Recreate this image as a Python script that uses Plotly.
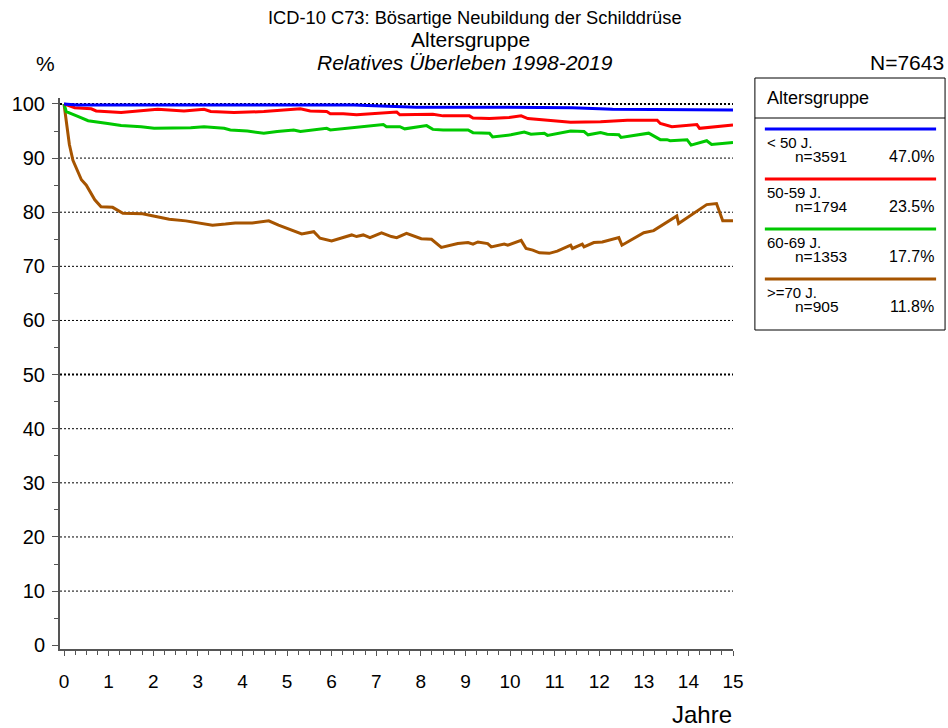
import plotly.graph_objects as go

# survival curves, years vs. percent
groups = ["< 50 J.", "50-59 J.", "60-69 J.", ">=70 J."]
counts = ["n=3591", "n=1794", "n=1353", "n=905"]
shares = ["47.0%", "23.5%", "17.7%", "11.8%"]
colors = ["#0000FF", "#FF0000", "#00C800", "#A65400"]

x_u50 = [0, 0.3, 6.5, 7.9, 9.8, 11.4, 12.3, 14.3, 14.6, 15]
y_u50 = [100, 99.8, 99.8, 99.4, 99.4, 99.3, 99.0, 99.0, 98.9, 98.9]

x_50 = [0, 0.24, 0.61, 0.72, 1.28, 2.1, 2.69, 3.14, 3.29, 3.81, 4.48, 5.0, 5.3, 5.52,
        5.89, 5.97, 6.26, 6.56, 7.46, 7.53, 8.27, 8.5, 9.09, 9.17, 9.54, 9.98, 10.25,
        10.4, 10.92, 11.36, 12.03, 12.63, 13.3, 13.37, 13.63, 14.19, 14.25, 15.0]
y_50 = [100, 99.3, 99.1, 98.7, 98.4, 99.0, 98.7, 99.0, 98.6, 98.4, 98.6, 98.9, 99.1, 98.7,
        98.6, 98.2, 98.2, 98.0, 98.5, 98.0, 98.1, 97.8, 97.8, 97.4, 97.3, 97.5, 97.8,
        97.3, 96.9, 96.6, 96.7, 97.0, 97.0, 96.4, 95.8, 96.2, 95.5, 96.1]

x_60 = [0, 0.05, 0.31, 0.54, 0.98, 1.28, 1.73, 2.02, 2.84, 3.14, 3.59, 3.73, 4.11, 4.48,
        4.78, 5.15, 5.3, 5.89, 5.97, 6.64, 7.16, 7.23, 7.53, 7.64, 8.13, 8.27, 8.5, 9.06,
        9.17, 9.54, 9.61, 10.02, 10.32, 10.47, 10.77, 10.84, 11.36, 11.66, 11.75, 12.03,
        12.18, 12.44, 12.49, 13.11, 13.37, 13.52, 13.59, 13.97, 14.06, 14.41, 14.52, 15.0]
y_60 = [100, 98.6, 97.7, 96.9, 96.4, 96.0, 95.8, 95.5, 95.6, 95.8, 95.5, 95.2, 95.0, 94.6,
        94.9, 95.2, 94.9, 95.5, 95.2, 95.7, 96.2, 95.8, 95.8, 95.4, 96.0, 95.3, 95.2, 95.2,
        94.7, 94.6, 93.9, 94.3, 94.8, 94.4, 94.6, 94.2, 95.0, 94.9, 94.3, 94.7,
        94.4, 94.3, 93.8, 94.6, 93.4, 93.4, 93.2, 93.4, 92.4, 93.2, 92.5, 92.9]

x_70 = [0, 0.06, 0.12, 0.2, 0.39, 0.5, 0.69, 0.83, 1.09, 1.32, 1.76, 2.06, 2.36, 2.73, 3.1, 3.33,
        3.62, 3.84, 4.22, 4.59, 4.81, 5.33, 5.6, 5.74, 6.0, 6.45, 6.56, 6.71, 6.86, 7.12,
        7.34, 7.46, 7.68, 8.01, 8.24, 8.46, 8.83, 9.06, 9.17, 9.28, 9.5, 9.58, 9.87, 9.95,
        10.25, 10.36, 10.51, 10.66, 10.88, 11.06, 11.36, 11.4, 11.62, 11.66, 11.88, 12.07,
        12.44, 12.51, 13.0, 13.22, 13.74, 13.78, 14.41, 14.63, 14.77, 15.0]
y_70 = [100, 96.0, 92.5, 89.6, 86.0, 85.0, 82.3, 81.0, 80.9, 79.8, 79.7, 79.2, 78.7, 78.4, 77.9, 77.6,
        77.8, 78.0, 78.0, 78.4, 77.6, 76.0, 76.4, 75.2, 74.7, 75.8, 75.5, 75.8, 75.3, 76.2,
        75.5, 75.3, 76.1, 75.1, 75.0, 73.5, 74.2, 74.4, 74.1, 74.5, 74.2, 73.6, 74.1, 73.9,
        74.8, 73.3, 73.0, 72.5, 72.4, 72.8, 73.9, 73.3, 74.1, 73.6, 74.4, 74.5,
        75.3, 73.9, 76.2, 76.6, 79.3, 77.9, 81.4, 81.6, 78.4, 78.4]

grid_levels = [10, 20, 30, 40, 60, 70, 80, 90]
bold_levels = [50, 100]

series_x = [x_u50, x_50, x_60, x_70]
series_y = [y_u50, y_50, y_60, y_70]

FONT = "Liberation Sans, Arial, sans-serif"
W, H = 948, 728
L, R, T, B = 57, 215, 98, 79


def px(xp):
    return (xp - L) / (W - L - R)


def py(yp):
    return (H - B - yp) / (H - T - B)


fig = go.Figure()

for g in grid_levels:
    fig.add_hline(y=g, line=dict(color="black", width=1, dash="2px,2px"), layer="below")
for g in bold_levels:
    fig.add_hline(y=g, line=dict(color="black", width=2, dash="2px,2px"), layer="below")

# draw oldest group first so blue stays on top
for i in reversed(range(4)):
    fig.add_trace(go.Scatter(x=series_x[i], y=series_y[i], mode="lines", name=groups[i],
                             line=dict(color=colors[i], width=3), showlegend=False))

fig.update_layout(
    width=W, height=H,
    margin=dict(l=L, r=R, t=T, b=B),
    plot_bgcolor="white", paper_bgcolor="white",
    font=dict(family=FONT, color="black"),
)
fig.update_xaxes(range=[-0.09, 15], dtick=1, tick0=0, showgrid=False, zeroline=False,
                 showline=True, linecolor="#555555", linewidth=2,
                 ticks="outside", ticklen=5, tickcolor="#555555", tickwidth=1,
                 minor=dict(dtick=0.25, tick0=0, ticks="outside", ticklen=4, tickcolor="#555555"),
                 tickfont=dict(size=19), ticklabelstandoff=9)
fig.update_yaxes(range=[-0.7, 101.1], dtick=10, tick0=0, showgrid=False, zeroline=False,
                 showline=True, linecolor="#555555", linewidth=2,
                 ticks="outside", ticklen=6, tickcolor="#555555", tickwidth=1,
                 minor=dict(dtick=5, tick0=0, ticks="outside", ticklen=4, tickcolor="#555555"),
                 tickfont=dict(size=20), ticklabelstandoff=3)

ann = [
    dict(x=px(474), y=py(18), text="ICD-10 C73: Bösartige Neubildung der Schilddrüse",
         font=dict(size=18.3)),
    dict(x=px(469), y=py(39), text="Altersgruppe", font=dict(size=21)),
    dict(x=px(464), y=py(62), text="<i>Relatives Überleben 1998-2019</i>", font=dict(size=21)),
    dict(x=px(42), y=py(63), text="%", font=dict(size=21)),
    dict(x=px(947), y=py(62), text="N=7643", font=dict(size=21), xanchor="right"),
    dict(x=px(734), y=py(714), text="Jahre", font=dict(size=24), xanchor="right"),
]

# legend box drawn by hand
shapes = [
    dict(type="rect", xref="paper", yref="paper", x0=px(755), x1=px(946), y0=py(78), y1=py(330),
         line=dict(color="black", width=1)),
    dict(type="line", xref="paper", yref="paper", x0=px(755), x1=px(946), y0=py(118), y1=py(118),
         line=dict(color="black", width=1)),
]
ann.append(dict(x=px(765), y=py(98), text="Altersgruppe", font=dict(size=18), xanchor="left"))
for i in range(4):
    yl = 129 + 50 * i
    shapes.append(dict(type="line", xref="paper", yref="paper", x0=px(765), x1=px(937),
                       y0=py(yl), y1=py(yl), line=dict(color=colors[i], width=3)))
    ann.append(dict(x=px(765), y=py(yl + 13.5), text=groups[i], font=dict(size=15), xanchor="left"))
    ann.append(dict(x=px(793), y=py(yl + 27), text=counts[i], font=dict(size=15.5), xanchor="left"))
    ann.append(dict(x=px(937), y=py(yl + 27), text=shares[i], font=dict(size=16), xanchor="right"))

for a in ann:
    a.setdefault("xref", "paper")
    a.setdefault("yref", "paper")
    a.setdefault("showarrow", False)
    a.setdefault("xanchor", "center")
    a.setdefault("yanchor", "middle")

fig.update_layout(annotations=ann, shapes=list(fig.layout.shapes) + shapes)

# page body has a default 8px margin; drop it so the figure fills the window
fig.write_html("out.html", config={"displayModeBar": False},
               post_script="document.body.style.margin='0';document.body.style.overflow='hidden';")
